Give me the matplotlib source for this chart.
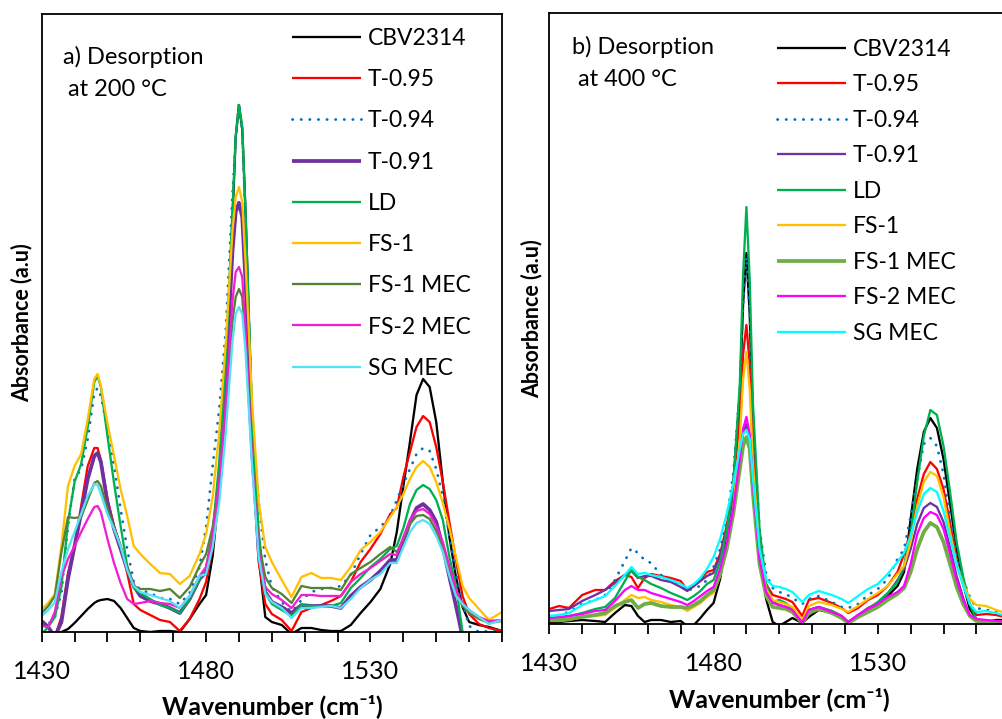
import matplotlib
matplotlib.use("Agg")
import matplotlib.pyplot as plt
from matplotlib.ticker import FixedLocator, FuncFormatter

plt.rcParams['font.family'] = ['Lato', 'DejaVu Sans']

# ---------------- data: panel a (desorption at 200 C) ----------------
wn_a = [1430, 1432, 1434, 1436, 1438, 1440, 1442, 1444, 1446, 1447,
        1448, 1450, 1452, 1454, 1456, 1458, 1460, 1463, 1466, 1469,
        1472, 1475, 1478, 1480, 1482, 1484, 1486, 1488, 1489, 1490,
        1491, 1492, 1494, 1496, 1498, 1500, 1503, 1506, 1509, 1512,
        1515, 1518, 1521, 1524, 1527, 1530, 1533, 1536, 1538, 1540,
        1542, 1544, 1546, 1548, 1550, 1552, 1554, 1556, 1558, 1560,
        1563, 1566, 1570]

a_cbv2314 = [-10, -8, -4, 0, 3, 9, 16, 23, 29, 31,
             32, 33, 31, 24, 14, 4, 1, 0, 1, 1,
             0, 13, 28, 37, 76, 143, 243, 410, 495, 527,
             503, 420, 210, 75, 15, 10, 7, -2, 4, 4,
             2, 1, 1, 7, 19, 30, 43, 68, 100, 146,
             190, 237, 253, 245, 210, 150, 95, 55, 25, 10,
             7, 5, 1]
a_t095 = [-20, -15, -5, 15, 59, 86, 126, 166, 184, 184,
          172, 133, 106, 86, 59, 28, 22, 17, 12, 10,
          1, 13, 33, 50, 85, 150, 250, 380, 420, 430,
          415, 350, 190, 70, 28, 18, 12, 1, 20, 24,
          27, 31, 36, 50, 70, 83, 98, 118, 124, 155,
          180, 205, 216, 210, 185, 150, 110, 72, 36, 18,
          8, 4, 1]
a_t094 = [6, 8, 15, 39, 106, 153, 163, 193, 239, 244,
          236, 203, 166, 123, 83, 50, 42, 39, 34, 33,
          28, 39, 65, 105, 166, 223, 303, 436, 493, 529,
          500, 410, 215, 130, 72, 45, 30, 20, 32, 40,
          43, 44, 46, 57, 78, 97, 105, 116, 132, 148,
          163, 178, 184, 181, 163, 136, 95, 58, 29, 6,
          0, 1, 0]
a_t091 = [11, 5, -5, 10, 53, 86, 119, 153, 176, 179,
          170, 129, 103, 83, 63, 46, 36, 31, 28, 24,
          19, 33, 53, 60, 92, 150, 250, 380, 420, 429,
          415, 350, 190, 80, 40, 30, 25, 19, 27, 26,
          26, 26, 24, 36, 45, 52, 61, 72, 72, 90,
          110, 124, 128, 122, 110, 85, 55, 26, -5, -30,
          -50, -60, -60]
a_ld = [-2, 5, 15, 45, 110, 150, 168, 205, 250, 256,
        245, 196, 149, 106, 66, 44, 39, 33, 27, 24,
        19, 33, 53, 65, 100, 170, 270, 420, 495, 527,
        505, 420, 215, 100, 40, 28, 22, 16, 27, 26,
        26, 26, 29, 44, 54, 65, 73, 83, 86, 104,
        128, 142, 147, 143, 132, 112, 75, 46, 0, -40,
        -60, -60, -60]
a_fs1 = [23, 29, 38, 86, 146, 166, 178, 213, 253, 258,
         246, 209, 176, 143, 116, 86, 78, 68, 59, 58,
         48, 56, 78, 98, 135, 200, 290, 400, 435, 445,
         430, 370, 230, 130, 85, 70, 52, 35, 55, 59,
         54, 54, 52, 65, 82, 90, 100, 115, 125, 138,
         153, 165, 171, 165, 150, 129, 104, 75, 46, 34,
         23, 12, 20]
a_fs1mec = [19, 26, 36, 80, 115, 114, 115, 132, 149, 151,
            146, 123, 105, 85, 65, 46, 43, 43, 41, 43,
            34, 45, 66, 78, 105, 150, 220, 310, 335, 343,
            335, 290, 170, 90, 55, 44, 38, 29, 46, 44,
            44, 44, 42, 58, 64, 70, 78, 85, 80, 93,
            108, 116, 117, 113, 101, 85, 63, 40, 26, 19,
            13, 9, 11]
a_fs2mec = [6, 5, 20, 55, 73, 86, 100, 113, 125, 126,
            120, 93, 69, 49, 33, 28, 29, 31, 29, 28,
            24, 36, 56, 65, 95, 150, 230, 330, 360, 365,
            355, 300, 170, 80, 45, 38, 32, 24, 37, 37,
            36, 36, 36, 50, 58, 64, 71, 78, 77, 95,
            112, 121, 123, 118, 106, 90, 66, 42, 28, 22,
            15, 11, 12]
a_sgmec = [16, 22, 30, 60, 83, 100, 118, 136, 148, 147,
           138, 118, 103, 86, 62, 46, 40, 37, 34, 31,
           24, 36, 56, 58, 85, 130, 200, 290, 318, 325,
           318, 280, 165, 75, 38, 30, 24, 14, 24, 24,
           25, 26, 24, 33, 44, 52, 58, 69, 69, 85,
           100, 109, 112, 108, 96, 80, 56, 36, 28, 22,
           15, 8, 12]

# ---------------- data: panel b (desorption at 400 C) ----------------
wn_b = [1430, 1433, 1436, 1440, 1444, 1447, 1450, 1453, 1455, 1457,
        1459, 1461, 1464, 1467, 1470, 1472, 1474, 1476, 1478, 1480,
        1482, 1484, 1486, 1488, 1489, 1490, 1491, 1492, 1494, 1496,
        1498, 1500, 1502, 1504, 1507, 1509, 1512, 1516, 1519, 1521,
        1524, 1527, 1530, 1533, 1536, 1538, 1540, 1542, 1544, 1546,
        1548, 1550, 1552, 1554, 1556, 1558, 1560, 1563, 1566, 1570]

b_cbv2314 = [1, 2, 3, 4, 3, 2, 11, 19, 18, 8,
             2, 4, 4, 2, 3, -2, -1, 6, 14, 21,
             45, 85, 140, 230, 320, 371, 310, 200, 80, 25,
             2, -2, 2, 6, 1, 7, 14, 12, 7, 1,
             7, 12, 19, 28, 38, 52, 105, 155, 192, 206,
             196, 165, 120, 75, 40, 15, 5, 2, 4, 4]
b_t095 = [15, 18, 16, 29, 34, 34, 43, 49, 47, 36,
          46, 50, 48, 46, 43, 34, 38, 44, 52, 54,
          70, 98, 138, 205, 270, 299, 260, 175, 80, 40,
          29, 27, 25, 22, 8, 24, 26, 21, 16, 11,
          16, 24, 29, 38, 52, 70, 92, 125, 150, 162,
          155, 135, 101, 64, 40, 20, 9, 10, 9, 6]
b_t094 = [8, 9, 12, 20, 24, 29, 44, 63, 76, 71,
          64, 61, 49, 43, 39, 33, 36, 38, 44, 57,
          75, 105, 150, 235, 320, 367, 310, 205, 95, 50,
          36, 32, 30, 26, 20, 25, 28, 22, 17, 16,
          20, 29, 35, 45, 65, 75, 108, 145, 180, 186,
          178, 150, 107, 67, 44, 27, 16, 14, 13, 11]
b_t091 = [13, 14, 15, 23, 29, 34, 41, 49, 53, 46,
          48, 48, 44, 42, 37, 33, 38, 43, 48, 51,
          68, 92, 125, 165, 190, 200, 185, 140, 70, 35,
          22, 19, 17, 14, 2, 14, 17, 13, 8, 2,
          9, 16, 21, 30, 44, 55, 75, 100, 116, 121,
          117, 102, 76, 48, 26, 8, 3, 2, 2, 1]
b_ld = [5, 6, 8, 11, 15, 17, 26, 43, 54, 47,
        44, 40, 36, 31, 27, 24, 28, 33, 40, 44,
        62, 92, 140, 240, 350, 417, 345, 220, 95, 40,
        22, 24, 21, 15, 2, 14, 17, 13, 8, 2,
        8, 15, 22, 31, 42, 58, 90, 142, 188, 214,
        209, 178, 132, 82, 47, 20, 4, 3, 2, 1]
b_fs1 = [3, 3, 4, 7, 8, 9, 16, 24, 29, 26,
         27, 24, 22, 19, 17, 13, 17, 21, 27, 31,
         48, 75, 115, 185, 245, 272, 235, 160, 72, 35,
         24, 22, 20, 17, 4, 18, 22, 19, 15, 12,
         18, 25, 31, 38, 50, 58, 82, 118, 142, 152,
         148, 127, 92, 60, 40, 25, 19, 18, 14, 10]
b_fs1mec = [4, 4, 5, 7, 9, 11, 18, 22, 24, 16,
            20, 21, 18, 17, 17, 16, 19, 23, 29, 34,
            50, 75, 110, 155, 178, 187, 175, 130, 60, 28,
            17, 16, 15, 12, 1, 11, 15, 11, 6, 1,
            7, 12, 17, 24, 30, 36, 52, 75, 92, 101,
            97, 82, 60, 37, 20, 8, 3, 3, 2, 2]
b_fs2mec = [6, 7, 8, 10, 13, 14, 23, 34, 38, 34,
            34, 31, 28, 25, 22, 19, 23, 28, 33, 37,
            55, 80, 115, 165, 195, 207, 190, 140, 65, 32,
            21, 19, 17, 14, 1, 14, 17, 12, 8, 2,
            9, 15, 20, 27, 32, 38, 60, 90, 106, 112,
            109, 95, 70, 44, 24, 9, 5, 4, 3, 2]
b_sgmec = [8, 9, 11, 19, 24, 28, 38, 49, 57, 50,
           51, 49, 47, 44, 40, 36, 40, 46, 55, 67,
           85, 110, 140, 175, 190, 194, 185, 145, 75, 45,
           38, 37, 35, 32, 22, 29, 33, 29, 25, 21,
           28, 35, 40, 50, 62, 71, 88, 112, 130, 136,
           132, 113, 86, 59, 38, 20, 12, 13, 11, 7]

labels = ["CBV2314", "T-0.95", "T-0.94", "T-0.91", "LD", "FS-1",
          "FS-1 MEC", "FS-2 MEC", "SG MEC"]
tick_values = [1430, 1480, 1530]

# ---------------- styles ----------------
LW = 1.65
LWT = 2.7
style_a = [
    dict(color="#000000", lw=LW),
    dict(color="#FF0000", lw=LW),
    dict(color="#0070C0", lw=2.0, ls=(0, (0.1, 3.0)), dash_capstyle="round"),
    dict(color="#7030A0", lw=LWT),
    dict(color="#00B050", lw=LW),
    dict(color="#FFC000", lw=LW),
    dict(color="#548235", lw=LW),
    dict(color="#F020D0", lw=LW),
    dict(color="#55E0F5", lw=LW),
]
style_b = [
    dict(color="#000000", lw=LW),
    dict(color="#FF0000", lw=LW),
    dict(color="#0070C0", lw=2.0, ls=(0, (0.1, 3.0)), dash_capstyle="round"),
    dict(color="#7030A0", lw=LW),
    dict(color="#00B050", lw=LW),
    dict(color="#FFC000", lw=LW),
    dict(color="#70AD47", lw=LWT),
    dict(color="#FF00FF", lw=LW),
    dict(color="#00FFFF", lw=LW),
]

W, H = 1003, 719
fig = plt.figure(figsize=(W / 100, H / 100), dpi=100)

ax_a = fig.add_axes([41.7 / W, (H - 632) / H, (502 - 41.7) / W, 618 / H])
ax_b = fig.add_axes([549.3 / W, (H - 624) / H, (1009.2 - 549.3) / W, 610.7 / H])

FS_TICK = 18
FS_LEG = 16.5
FS_TITLE = 17
FS_XLAB = 18
FS_YLAB = 15.5

series_a = [a_cbv2314, a_t095, a_t094, a_t091, a_ld, a_fs1, a_fs1mec, a_fs2mec, a_sgmec]
series_b = [b_cbv2314, b_t095, b_t094, b_t091, b_ld, b_fs1, b_fs1mec, b_fs2mec, b_sgmec]

for ax, wn, series, styles, ytop in [(ax_a, wn_a, series_a, style_a, 618),
                                      (ax_b, wn_b, series_b, style_b, 610.7)]:
    for lab, ys, st in zip(labels, series, styles):
        ax.plot(wn, ys, label=lab, solid_capstyle="butt", **st)
    ax.set_xlim(1430, 1570)
    ax.set_ylim(0, ytop)
    ax.set_yticks([])
    ax.xaxis.set_major_locator(FixedLocator(list(range(1430, 1571, 10))))
    ax.xaxis.set_major_formatter(FuncFormatter(
        lambda v, p: f"{int(round(v))}" if int(round(v)) in tick_values else ""))
    ax.tick_params(axis="x", direction="out", length=7, width=1.3,
                   labelsize=FS_TICK, pad=13, colors="black")
    for s in ax.spines.values():
        s.set_linewidth(1.3)
        s.set_color("black")

# legends
fpx = FS_LEG * 100 / 72
leg_a = ax_a.legend(loc="upper left", bbox_to_anchor=(292 / W, 1 - 28 / H),
                    bbox_transform=fig.transFigure, frameon=False, borderpad=0,
                    fontsize=FS_LEG, handlelength=69 / fpx, handletextpad=7 / fpx,
                    labelspacing=40.75 / fpx - 0.896, borderaxespad=0)
leg_b = ax_b.legend(loc="upper left", bbox_to_anchor=(777 / W, 1 - 39 / H),
                    bbox_transform=fig.transFigure, frameon=False, borderpad=0,
                    fontsize=FS_LEG, handlelength=69 / fpx, handletextpad=7 / fpx,
                    labelspacing=35 / fpx - 0.896, borderaxespad=0)

# panel titles
fig.text(63 / W, 1 - 57 / H, "a) Desorption", fontsize=FS_TITLE, va="center", ha="left")
fig.text(68 / W, 1 - 89 / H, "at 200 °C", fontsize=FS_TITLE, va="center", ha="left")
fig.text(572 / W, 1 - 47 / H, "b) Desorption", fontsize=FS_TITLE, va="center", ha="left")
fig.text(578 / W, 1 - 80 / H, "at 400 °C", fontsize=FS_TITLE, va="center", ha="left")

# axis labels
for xc, yc in [(272, 706), (779, 699)]:
    fig.text(xc / W, 1 - yc / H, "Wavenumber (cm⁻¹)", fontsize=FS_XLAB, fontweight="bold",
             ha="center", va="center")
for xc, yc in [(22, 323), (532, 319)]:
    fig.text(xc / W, 1 - yc / H, "Absorbance (a.u)", fontsize=FS_YLAB, fontweight="bold",
             ha="center", va="center", rotation=90)

fig.savefig("out.png", dpi=100)
